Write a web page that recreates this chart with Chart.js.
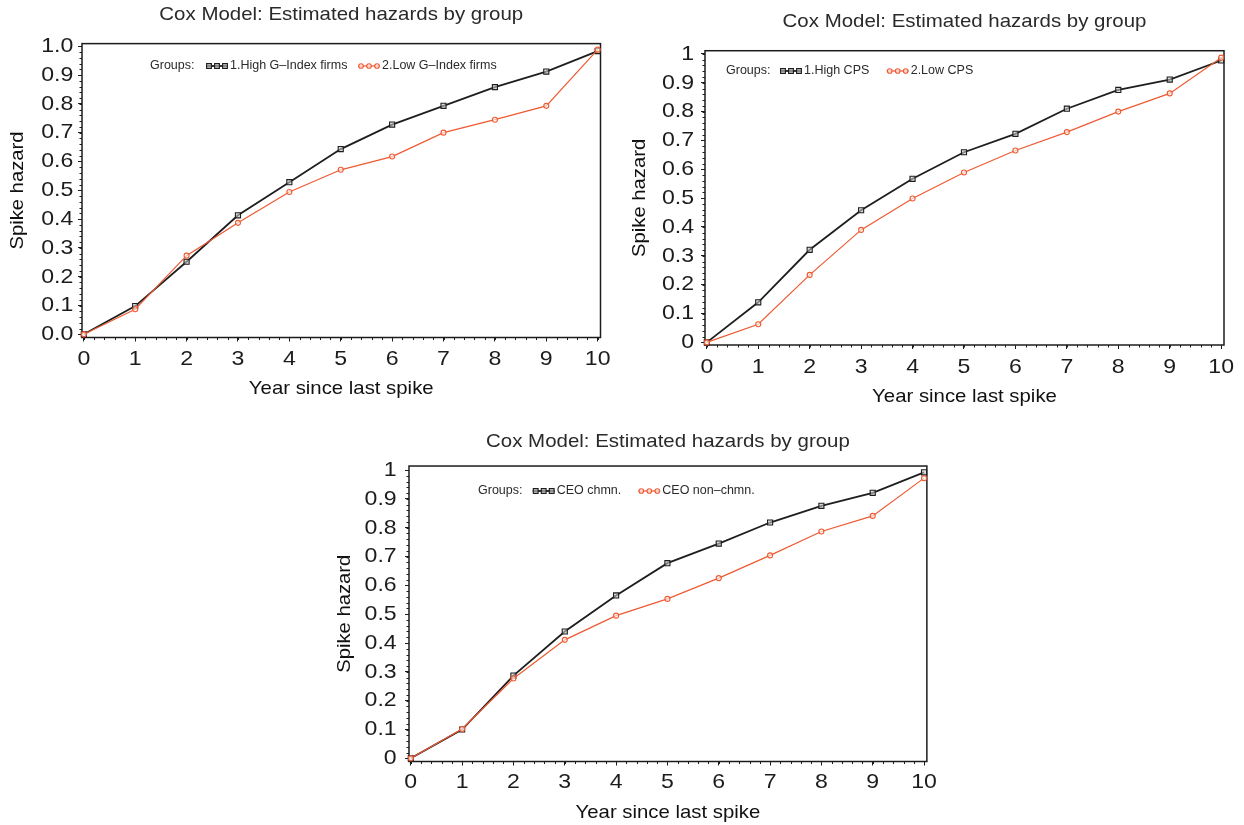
<!DOCTYPE html>
<html>
<head>
<meta charset="utf-8">
<title>Cox Model: Estimated hazards by group</title>
<script src="https://cdn.jsdelivr.net/npm/chart.js@4.4.1/dist/chart.umd.min.js"></script>
<style>
  body { margin: 0; background: #fff; }
  .panel { position: absolute; }
</style>
</head>
<body>
<canvas id="gindexChart" class="panel" width="620" height="410" style="left:0;top:0"></canvas>
<canvas id="cpsChart" class="panel" width="622" height="410" style="left:622px;top:0"></canvas>
<canvas id="ceoChart" class="panel" width="620" height="405" style="left:320px;top:420px"></canvas>
<script>
// Data
const years = [0, 1, 2, 3, 4, 5, 6, 7, 8, 9, 10];
const yTicks = [0, 0.1, 0.2, 0.3, 0.4, 0.5, 0.6, 0.7, 0.8, 0.9, 1];
const yLabelsDecimal = ['0.0', '0.1', '0.2', '0.3', '0.4', '0.5', '0.6', '0.7', '0.8', '0.9', '1.0'];
const yLabelsPlain = ['0', '0.1', '0.2', '0.3', '0.4', '0.5', '0.6', '0.7', '0.8', '0.9', '1'];

const gindexGroups = ['1.High G\u2013Index firms', '2.Low G\u2013Index firms'];
const gindexHigh = [0, 0.098, 0.252, 0.413, 0.528, 0.643, 0.728, 0.793, 0.858, 0.912, 0.983];
const gindexLow = [0, 0.087, 0.273, 0.387, 0.494, 0.571, 0.617, 0.700, 0.745, 0.793, 0.988];

const cpsGroups = ['1.High CPS', '2.Low CPS'];
const cpsHigh = [0, 0.139, 0.321, 0.458, 0.567, 0.659, 0.723, 0.810, 0.875, 0.911, 0.977];
const cpsLow = [0, 0.063, 0.234, 0.390, 0.499, 0.589, 0.665, 0.729, 0.800, 0.863, 0.987];

const ceoGroups = ['CEO chmn.', 'CEO non\u2013chmn.'];
const ceoChair = [0, 0.100, 0.287, 0.440, 0.565, 0.677, 0.745, 0.818, 0.876, 0.921, 0.992];
const ceoNonChair = [0, 0.102, 0.277, 0.411, 0.495, 0.553, 0.625, 0.704, 0.787, 0.841, 0.972];

const FONT = "'Liberation Sans', Arial, Helvetica, sans-serif";
const TEXT_STRETCH = 1.1;   // the original fonts are drawn a little wide
const INK = '#1c1c1c';
const BLACK = '#1e1e1e';
const RED = '#ee5a32';

// widen every chart text (ticks, titles) the way the source fonts look
const wideText = {
    id: 'wideText',
    beforeInit(chart) {
        const ctx = chart.ctx;
        const plain = ctx.fillText;
        ctx.plainFillText = plain;
        ctx.fillText = function (text, x, y) {
            this.save();
            this.translate(x, y);
            this.scale(TEXT_STRETCH, 1);
            plain.call(this, text, 0, 0);
            this.restore();
        };
    }
};

// plot frame + minor tick marks
const frameTicks = {
    id: 'frameTicks',
    beforeDatasetsDraw(chart) {
        const { ctx, chartArea: a, scales } = chart;
        ctx.save();
        ctx.strokeStyle = INK;
        ctx.lineWidth = 1;
        ctx.beginPath();
        for (let v = 0; v <= 1.0001; v += 0.02) {
            const py = Math.round(scales.y.getPixelForValue(v)) + 0.5;
            ctx.moveTo(a.left - 2.5, py);
            ctx.lineTo(a.left, py);
        }
        for (let v = 0; v <= 10.0001; v += 0.2) {
            const px = Math.round(scales.x.getPixelForValue(v)) + 0.5;
            ctx.moveTo(px, a.bottom);
            ctx.lineTo(px, a.bottom + 2.5);
        }
        ctx.stroke();
        ctx.lineWidth = 1.5;
        ctx.strokeRect(a.left, a.top, a.right - a.left, a.bottom - a.top);
        ctx.restore();
    }
};

// "Groups:" legend inside the plot area
const groupLegend = {
    id: 'groupLegend',
    afterDatasetsDraw(chart, args, opts) {
        const ctx = chart.ctx;
        ctx.save();
        ctx.font = '12.5px ' + FONT;
        ctx.fillStyle = '#2a2a2a';
        ctx.textAlign = 'left';
        ctx.textBaseline = 'middle';
        ctx.plainFillText('Groups:', opts.x, opts.y);
        opts.items.forEach((sx, i) => {
            const ds = chart.data.datasets[i];
            ctx.strokeStyle = ds.borderColor;
            ctx.lineWidth = ds.borderWidth;
            ctx.beginPath();
            ctx.moveTo(sx, opts.y);
            ctx.lineTo(sx + 22, opts.y);
            ctx.stroke();
            ctx.lineWidth = 1.1;
            [sx + 3, sx + 11, sx + 19].forEach(mx => {
                ctx.fillStyle = ds.pointBackgroundColor;
                ctx.beginPath();
                if (ds.pointStyle === 'rect') {
                    ctx.rect(mx - 2.4, opts.y - 2.4, 4.8, 4.8);
                } else {
                    ctx.arc(mx, opts.y, 2.3, 0, Math.PI * 2);
                }
                ctx.fill();
                ctx.stroke();
            });
            ctx.fillStyle = '#2a2a2a';
            ctx.plainFillText(ds.label, sx + 24, opts.y);
        });
        ctx.restore();
    }
};

function series(label, values, color, isFirst) {
    return {
        label: label,
        data: years.map((x, i) => ({ x: x, y: values[i] })),
        borderColor: color,
        borderWidth: isFirst ? 1.8 : 1.2,
        pointStyle: isFirst ? 'rect' : 'circle',
        pointRadius: isFirst ? 3.6 : 2.5,
        pointBorderWidth: 1.1,
        pointBorderColor: color,
        pointBackgroundColor: isFirst ? 'rgba(200,200,200,0.6)' : 'rgba(255,255,255,0.6)',
        tension: 0,
        clip: false,
        order: isFirst ? 1 : 0
    };
}

function makeChart(id, groups, high, low, yLabels, L) {
    const ctx = document.getElementById(id).getContext('2d');
    return new Chart(ctx, {
        type: 'line',
        data: {
            datasets: [
                series(groups[0], high, BLACK, true),
                series(groups[1], low, RED, false)
            ]
        },
        options: {
            responsive: false,
            animation: false,
            events: [],
            layout: { padding: { left: 0, top: 0, right: L.padRight, bottom: 0 } },
            plugins: {
                legend: { display: false },
                tooltip: { enabled: false },
                title: {
                    display: true,
                    fullSize: false,
                    text: 'Cox Model: Estimated hazards by group',
                    color: '#2a2a2a',
                    font: { family: FONT, size: 18.6, weight: 'normal' },
                    padding: { top: L.titleTop, bottom: L.titleBottom }
                },
                groupLegend: L.legend
            },
            scales: {
                x: {
                    type: 'linear',
                    min: -0.035,
                    max: 10.055,
                    afterFit: s => { s.height = L.xHeight; },
                    afterBuildTicks: s => { s.ticks = years.map(v => ({ value: v })); },
                    border: { display: false },
                    grid: { drawOnChartArea: false, drawTicks: true, tickLength: 4, tickColor: INK, tickWidth: 1 },
                    ticks: {
                        color: INK,
                        padding: L.xTickPad,
                        maxRotation: 0,
                        font: { family: FONT, size: 21 },
                        callback: v => String(v)
                    },
                    title: {
                        display: true,
                        text: 'Year since last spike',
                        color: '#111',
                        font: { family: FONT, size: 18.5 },
                        padding: { top: 0, bottom: L.xTitlePad }
                    }
                },
                y: {
                    type: 'linear',
                    min: L.yMin,
                    max: L.yMax,
                    afterFit: s => { s.width = L.yWidth; },
                    afterBuildTicks: s => { s.ticks = yTicks.map(v => ({ value: v })); },
                    border: { display: false },
                    grid: { drawOnChartArea: false, drawTicks: true, tickLength: 4, tickColor: INK, tickWidth: 1 },
                    ticks: {
                        color: INK,
                        padding: L.yTickPad,
                        font: { family: FONT, size: 21 },
                        callback: (v, i) => yLabels[i]
                    },
                    title: {
                        display: true,
                        text: 'Spike hazard',
                        color: '#111',
                        font: { family: FONT, size: 18.4 },
                        padding: { top: L.yTitlePad, bottom: 0 }
                    }
                }
            }
        },
        plugins: [wideText, frameTicks, groupLegend]
    });
}

makeChart('gindexChart', gindexGroups, gindexHigh, gindexLow, yLabelsDecimal, {
    padRight: 19.5, yWidth: 82, xHeight: 72.5,
    titleTop: 4, titleBottom: 17.3, yTitlePad: 7, xTitlePad: 10,
    yTickPad: 4.7, xTickPad: 5.5, yMin: -0.011, yMax: 1.009,
    legend: { x: 150, y: 66, items: [206, 358] }
});

makeChart('cpsChart', cpsGroups, cpsHigh, cpsLow, yLabelsPlain, {
    padRight: 20, yWidth: 83, xHeight: 65,
    titleTop: 11, titleBottom: 17.4, yTitlePad: 7, xTitlePad: 2.3,
    yTickPad: 7, xTickPad: 5.7, yMin: -0.009, yMax: 1.011,
    legend: { x: 104, y: 71, items: [158, 264.7] }
});

makeChart('ceoChart', ceoGroups, ceoChair, ceoNonChair, yLabelsPlain, {
    padRight: 13, yWidth: 89, xHeight: 63.5,
    titleTop: 10.7, titleBottom: 13, yTitlePad: 14, xTitlePad: 1,
    yTickPad: 8.3, xTickPad: 4.2, yMin: -0.011, yMax: 1.014,
    legend: { x: 158, y: 71, items: [212.7, 318.3] }
});
</script>
</body>
</html>
